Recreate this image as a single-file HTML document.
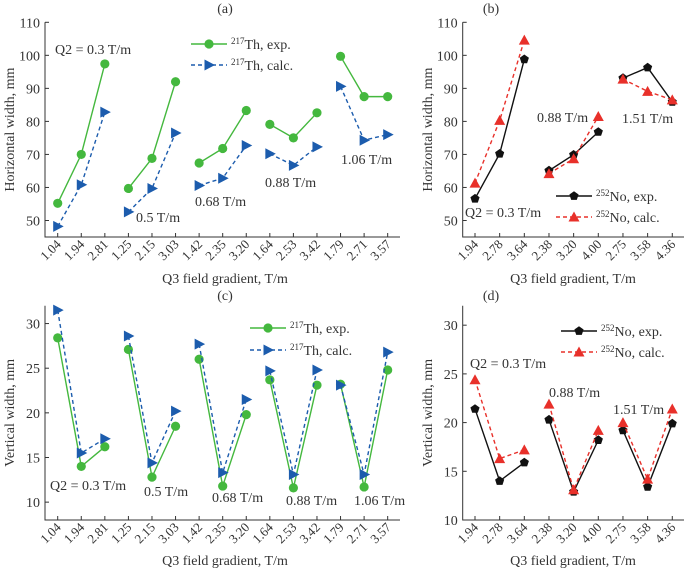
<!DOCTYPE html>
<html><head><meta charset="utf-8"><style>
body{margin:0;background:#fff}
svg{display:block;font-family:"Liberation Serif",serif}
text{fill:#333}
</style></head><body>
<svg id="c" width="685" height="569" viewBox="0 0 685 569"></svg>
<script>
const catsA=["1.04","1.94","2.81","1.25","2.15","3.03","1.42","2.35","3.20","1.64","2.53","3.42","1.79","2.71","3.57"];
const catsB=["1.94","2.78","3.64","2.38","3.20","4.00","2.75","3.58","4.36"];
const thHExp=[55.2,70,97.4,59.7,68.8,92,67.4,71.8,83.3,79.1,75,82.6,99.7,87.5,87.5];
const thHCalc=[48.2,60.8,82.8,52.6,59.7,76.5,60.6,62.8,72.7,70.2,66.7,72.3,90.6,74.3,76.0];
const noHExp=[56.6,70.2,98.8,65.1,69.9,76.8,93.1,96.3,85.9];
const noHCalc=[61.3,80.3,104.6,64.2,68.7,81.5,92.8,89.1,86.5];
const thVExp=[28.4,14,16.2,27.1,12.8,18.5,26,11.8,19.8,23.7,11.6,23.1,23.2,11.7,24.8];
const thVCalc=[31.5,15.5,17.1,28.6,14.4,20.2,27.7,13.3,21.5,24.7,13.1,24.8,23.1,13.1,26.8];
const noVExp=[21.4,14,15.9,20.3,12.9,18.2,19.2,13.4,19.9];
const noVCalc=[24.4,16.3,17.2,21.9,13.1,19.2,20,14.2,21.4];
const hTicks=[50,60,70,80,90,100,110];
const vTicks=[10,15,20,25,30];

const NS="http://www.w3.org/2000/svg";
const svg=document.getElementById('c');
function mk(tag,attrs,parent,txt){const e=document.createElementNS(NS,tag);for(const k in attrs)e.setAttribute(k,attrs[k]);if(txt!==undefined)e.textContent=txt;(parent||svg).appendChild(e);return e;}

function marker(g,type,x,y,color){
  let e;
  if(type==='circle'){e=mk('circle',{cx:x,cy:y,r:4.6,fill:color},g);}
  else if(type==='tri-right'){e=mk('polygon',{points:`${x-4.5},${y-5.5} ${x+6},${y} ${x-4.5},${y+5.5}`,fill:color},g);}
  else if(type==='tri-up'){e=mk('polygon',{points:`${x},${y-5.5} ${x+5.5},${y+4.5} ${x-5.5},${y+4.5}`,fill:color},g);}
  else {let p=[];for(let i=0;i<5;i++){const a=-Math.PI/2+i*2*Math.PI/5;p.push((x+4.8*Math.cos(a)).toFixed(1)+','+(y+4.8*Math.sin(a)).toFixed(1));}e=mk('polygon',{points:p.join(' '),fill:color},g);}
  
  
}

function panel(o){
  const g=mk('g',{});
  
  
  const yS=v=>o.yBot-(v-o.yMin)/(o.yMax-o.yMin)*(o.yBot-o.yTop);
  const xS=i=>o.x0+i*o.dx;
  // axes
  const ax=mk('path',{d:`M${o.ax},${o.yTop}V${o.yBot}H${o.axR}`,stroke:'#333','stroke-width':1,fill:'none'},g);
  
  o.ticks.forEach(t=>{const y=yS(t);mk('line',{x1:o.ax,x2:o.ax+4,y1:y,y2:y,stroke:'#333'},g);
    const tl=mk('text',{x:o.ax-5,y:y+5,'text-anchor':'end','font-size':14},g,t);
    });
  o.cats.forEach((c,i)=>{const x=xS(i);mk('line',{x1:x,x2:x,y1:o.yBot,y2:o.yBot-4,stroke:'#333'},g);
    const tl=mk('text',{x:x+4,y:o.yBot+8,'text-anchor':'end','font-size':13,transform:`rotate(-45 ${x+4} ${o.yBot+8})`},g,c);
    });
  const t=mk('text',{x:o.titleX,y:o.titleY,'text-anchor':'middle','font-size':14},g,o.title);
  
  const xt=mk('text',{x:o.xtX,y:o.xtY,'text-anchor':'middle','font-size':14},g,'Q3 field gradient, T/m');
  
  const cy=(o.yTop+o.yBot)/2;
  const yt=mk('text',{x:o.ytX,y:cy,'text-anchor':'middle','font-size':14,transform:`rotate(-90 ${o.ytX} ${cy})`},g,o.yTitle);
  
  // series
  o.series.forEach(s=>{
    for(let k=0;k<s.vals.length;k+=3){
      const pts=[0,1,2].map(j=>xS(k+j)+','+yS(s.vals[k+j])).join(' ');
      const l=mk('polyline',{points:pts,fill:'none',stroke:s.color,'stroke-width':1.4,'stroke-dasharray':s.dash||''},g);
      
    }
    s.vals.forEach((v,i)=>marker(g,s.mk,xS(i),yS(v),s.color));
  });
  // annotations
  o.notes.forEach(n=>{const e=mk('text',{x:n[0],y:n[1],'font-size':14},g,n[2]);
    });
  // legend
  o.series.forEach((s,i)=>{
    const y=o.legY+i*o.legDy;
    const lg=mk('g',{},g);
    
    mk('line',{x1:o.legX,x2:o.legX+36,y1:y,y2:y,stroke:s.color,'stroke-width':1.4,'stroke-dasharray':s.dash||''},lg);
    marker(lg,s.mk,o.legX+18,y,s.color);
    const tx=mk('text',{x:o.legX+40,y:y+5,'font-size':14},lg);
    const sup=mk('tspan',{'font-size':9,dy:-5},tx,s.iso);
    mk('tspan',{dy:5},tx,s.lab);
  });
}
const GREEN='#44b83e',BLUE='#1c5cad',BLACK='#111',RED='#e8302a';
panel({name:'panel-a',title:'(a)',titleX:225,titleY:13,cats:catsA,x0:57.7,dx:23.57,ax:45,axR:400,yTop:22.3,yBot:237,yMin:45,yMax:110,ticks:hTicks,
 xtX:225,xtY:283,ytX:14,yTitle:'Horizontal width, mm',
 series:[{name:'th-exp',vals:thHExp,color:GREEN,mk:'circle',iso:'217',lab:'Th, exp.'},{name:'th-calc',vals:thHCalc,color:BLUE,mk:'tri-right',dash:'4,3',iso:'217',lab:'Th, calc.'}],
 legX:191,legY:44,legDy:21,
 notes:[[55,54,'Q2 = 0.3 T/m'],[136,222,'0.5 T/m'],[195,206,'0.68 T/m'],[265,187,'0.88 T/m'],[341,164,'1.06 T/m']]});
panel({name:'panel-b',title:'(b)',titleX:491,titleY:13,cats:catsB,x0:475,dx:24.66,ax:462.7,axR:684,yTop:22.3,yBot:237,yMin:45,yMax:110,ticks:hTicks,
 xtX:573,xtY:283,ytX:432,yTitle:'Horizontal width, mm',
 series:[{name:'no-exp',vals:noHExp,color:BLACK,mk:'pent',iso:'252',lab:'No, exp.'},{name:'no-calc',vals:noHCalc,color:RED,mk:'tri-up',dash:'4,3',iso:'252',lab:'No, calc.'}],
 legX:556,legY:196,legDy:21,
 notes:[[537,122,'0.88 T/m'],[622,123,'1.51 T/m'],[465,217,'Q2 = 0.3 T/m']]});
panel({name:'panel-c',title:'(c)',titleX:225,titleY:300,cats:catsA,x0:57.7,dx:23.57,ax:45,axR:400,yTop:305.7,yBot:520,yMin:8,yMax:32,ticks:vTicks,
 xtX:225,xtY:565,ytX:14,yTitle:'Vertical width, mm',
 series:[{name:'th-exp',vals:thVExp,color:GREEN,mk:'circle',iso:'217',lab:'Th, exp.'},{name:'th-calc',vals:thVCalc,color:BLUE,mk:'tri-right',dash:'4,3',iso:'217',lab:'Th, calc.'}],
 legX:250,legY:328,legDy:22,
 notes:[[50,490,'Q2 = 0.3 T/m'],[144,496,'0.5 T/m'],[212,502,'0.68 T/m'],[286,505,'0.88 T/m'],[354,505,'1.06 T/m']]});
panel({name:'panel-d',title:'(d)',titleX:491,titleY:300,cats:catsB,x0:475,dx:24.66,ax:462.7,axR:684,yTop:305.7,yBot:520,yMin:10,yMax:32,ticks:vTicks,
 xtX:573,xtY:565,ytX:432,yTitle:'Vertical width, mm',
 series:[{name:'no-exp',vals:noVExp,color:BLACK,mk:'pent',iso:'252',lab:'No, exp.'},{name:'no-calc',vals:noVCalc,color:RED,mk:'tri-up',dash:'4,3',iso:'252',lab:'No, calc.'}],
 legX:561,legY:331,legDy:21,
 notes:[[470,368,'Q2 = 0.3 T/m'],[549,397,'0.88 T/m'],[613,414,'1.51 T/m']]});
</script>
</body></html>
